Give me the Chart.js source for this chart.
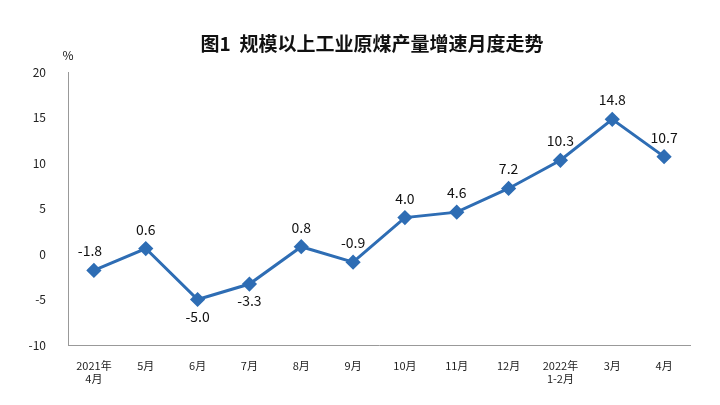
<!DOCTYPE html>
<html><head><meta charset="utf-8">
<script src="https://cdn.jsdelivr.net/npm/chart.js@4/dist/chart.umd.min.js"></script>
<style>body{margin:0;background:#fff}#wrap{width:720px;height:405px;position:relative}</style>
</head><body><div id="wrap"><canvas id="c" width="720" height="405"></canvas></div>
<script>
// monthly raw coal output growth, %
const months = [['2021年','4月'],'5月','6月','7月','8月','9月','10月','11月','12月',['2022年','1-2月'],'3月','4月'];
const growth = [-1.8, 0.6, -5.0, -3.3, 0.8, -0.9, 4.0, 4.6, 7.2, 10.3, 14.8, 10.7];
const yTicks = [-10, -5, 0, 5, 10, 15, 20];
// label placement per point: 'up' or 'down'
const labelPos = ['up','up','down','down','up','up','up','up','up','up','up','up'];

const FONT = '"Noto Sans CJK SC", "Liberation Sans", sans-serif';

const decor = {
    id: 'decor',
    afterDatasetsDraw(chart) {
        const c = chart.ctx;
        c.save();
        c.fillStyle = '#111';
        c.font = 'bold 19px ' + FONT;
        c.textAlign = 'center';
        c.fillText('图1  规模以上工业原煤产量增速月度走势', 372, 51);
        c.font = '12px ' + FONT;
        c.fillText('%', 68, 60);
        c.font = '14px ' + FONT;
        const meta = chart.getDatasetMeta(0);
        meta.data.forEach((pt, i) => {
            const txt = growth[i].toFixed(1);
            const dy = labelPos[i] === 'up' ? -14 : 22;
            const dx = i === 0 ? -4 : 0;
            c.fillText(txt, pt.x + dx, pt.y + dy);
        });
        c.restore();
    }
};

new Chart(document.getElementById('c'), {
    type: 'line',
    data: {
        labels: months,
        datasets: [{
            data: growth,
            borderColor: '#2e6db4',
            backgroundColor: '#2e6db4',
            borderWidth: 3,
            pointStyle: 'rectRot',
            pointRadius: 5.5,
            tension: 0
        }]
    },
    options: {
        responsive: false,
        animation: false,
        layout: { padding: { top: 72, right: 30, left: 0, bottom: 0 } },
        plugins: { legend: { display: false }, tooltip: { enabled: false } },
        scales: {
            x: {
                offset: true,
                grid: { display: false },
                border: { color: '#999' },
                ticks: { color: '#222', font: { size: 11, family: FONT }, maxRotation: 0, padding: 6 },
                afterFit(s) { s.height = 60; }
            },
            y: {
                min: -10, max: 20,
                afterBuildTicks(s) { s.ticks = yTicks.map(v => ({ value: v })); },
                grid: { display: false },
                border: { color: '#999' },
                ticks: { color: '#222', font: { size: 12, family: FONT }, padding: 14 },
                afterFit(s) { s.width = 68; }
            }
        }
    },
    plugins: [decor]
});
</script></body></html>
